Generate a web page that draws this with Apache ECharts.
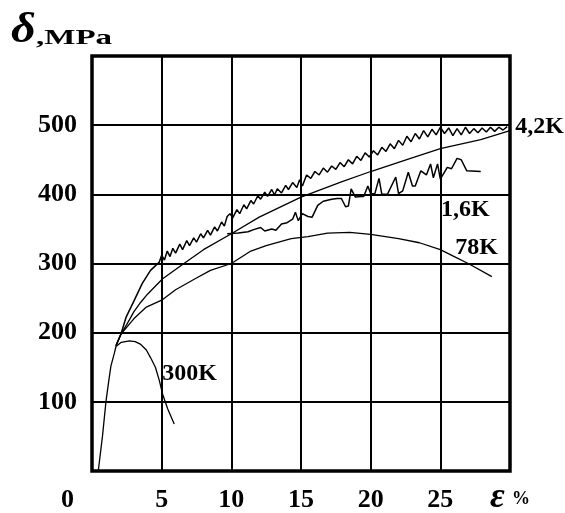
<!DOCTYPE html>
<html>
<head>
<meta charset="utf-8">
<script src="https://cdn.jsdelivr.net/npm/echarts@6/dist/echarts.min.js"></script>
<style>
html,body{margin:0;padding:0;background:#fff;}
#c{width:565px;height:513px;}
</style>
</head>
<body>
<div id="c"></div>
<script>
// ---- data (strain %, stress MPa) ----
const xTickLabels = ['0','5','10','15','20','25'];
const yTickLabels = ['100','200','300','400','500'];
const seriesNames = ['300K','4,2K','smooth','1,6K','78K'];

const curve300K = [[0.45,0],[0.75,50],[1.0,100],[1.2,130],[1.36,152],[1.6,170],[1.72,180],[2.1,186],[2.68,188],[3.1,187],[3.5,183],[3.9,175],[4.2,164],[4.55,150],[4.83,131],[5.07,111],[5.43,90],[5.9,68]];

const curve42K = [[1.72,181],[2.08,198],[2.44,222],[3.04,247],[3.6,271],[4.2,290],[4.83,302],[5.0,312],[5.2,305],[5.4,318],[5.6,310],[5.8,322],[6.0,315],[6.3,328],[6.5,320],[6.8,333],[7.0,326],[7.3,337],[7.5,331],[7.8,343],[8.0,337],[8.3,348],[8.5,341],[8.8,353],[9.0,347],[9.3,360],[9.5,354],[9.7,368],[9.9,372],[10.1,366],[10.4,378],[10.6,372],[10.9,385],[11.1,379],[11.4,391],[11.6,386],[11.9,398],[12.1,393],[12.4,403],[12.6,397],[12.9,407],[13.1,399],[13.3,408],[13.6,402],[13.9,413],[14.1,407],[14.4,417],[14.7,410],[14.9,421],[15.1,412],[15.4,428],[15.7,423],[16.0,433],[16.3,428],[16.6,438],[16.9,432],[17.2,441],[17.5,436],[17.8,446],[18.1,440],[18.4,450],[18.7,444],[19.0,455],[19.3,449],[19.6,460],[19.9,454],[20.2,463],[20.5,457],[20.8,468],[21.1,462],[21.4,473],[21.7,466],[22.0,478],[22.3,471],[22.6,484],[22.9,476],[23.2,488],[23.5,480],[23.8,492],[24.1,483],[24.4,494],[24.7,486],[25.0,497],[25.3,488],[25.6,496],[25.9,485],[26.2,495],[26.5,486],[26.8,497],[27.1,488],[27.4,495],[27.7,489],[28.0,496],[28.3,490],[28.6,497],[28.9,491],[29.2,497],[29.5,493],[29.8,498]];

const curveSmooth = [[1.72,181],[2.08,198],[2.5,212],[3.0,230],[3.5,244],[4.0,256],[5.07,278],[6.6,300],[8.0,320],[10.0,343],[12.0,367],[15.0,396],[17.9,418],[20.0,433],[22.7,451],[25.0,466],[27.9,479],[30.0,492]];

const curve16K = [[9.7,343],[10.5,344],[11.2,346],[11.6,349],[12.1,352],[12.4,347],[12.9,350],[13.2,348],[13.6,357],[14.0,359],[14.4,364],[14.6,374],[14.8,362],[15.1,372],[15.5,368],[15.8,367],[16.2,384],[16.6,390],[17.2,393],[17.6,394],[17.9,394],[18.2,382],[18.4,383],[18.6,408],[18.9,396],[19.3,397],[19.5,397],[19.8,412],[20.0,401],[20.3,401],[20.6,423],[20.8,400],[21.2,400],[21.8,425],[22.0,401],[22.3,405],[22.7,432],[23.0,412],[23.2,412],[23.6,434],[24.0,428],[24.3,444],[24.5,424],[24.8,444],[25.0,422],[25.5,439],[25.8,437],[26.2,452],[26.5,450],[26.9,434],[27.9,433]];

const curve78K = [[1.72,181],[2.08,198],[3.0,220],[3.9,237],[5.0,247],[6.0,262],[7.4,278],[8.5,290],[10.0,300],[11.4,318],[12.5,326],[14.3,336],[15.5,339],[16.9,344],[18.5,345],[20.0,342],[22.0,336],[23.5,330],[25.0,320],[26.0,310],[27.0,300],[28.7,281]];

// label anchor points in data space
const labelAt16K = [26.8, 378];
const labelAt78K = [27.6, 323];
const labelAt300K = [7.0, 141];

const serif = '"Liberation Serif", "Times New Roman", serif';
const labFont = {color:'#000', fontFamily:serif, fontWeight:'bold', fontSize:24};

function lineSeries(name, data, width, extra){
  return Object.assign({
    type:'line', name:name, data:data, showSymbol:false, symbol:'none',
    lineStyle:{color:'#000', width:width}, z:3, animation:false, clip:false
  }, extra||{});
}
function mp(name, coord){
  return {symbol:'circle', symbolSize:0, data:[{name:name, coord:coord}],
    label:Object.assign({show:true, position:'inside', formatter:'{b}'}, labFont)};
}

const chart = echarts.init(document.getElementById('c'), null, {renderer:'canvas'});
chart.setOption({
  animation:false,
  backgroundColor:'#fff',
  grid:{left:92, right:55, top:56, bottom:41, show:true, borderColor:'#000', borderWidth:3.5, backgroundColor:'transparent', z:10},
  xAxis:{type:'value', min:0, max:30, interval:5,
    axisLine:{show:false}, axisTick:{show:false},
    splitLine:{show:true, lineStyle:{color:'#000', width:2}},
    axisLabel:{margin:16, color:'#000', fontFamily:serif, fontWeight:'bold', fontSize:26,
      formatter:function(v){
        const i = Math.round(v/5);
        if(i===0) return '{z|'+xTickLabels[0]+'}';
        return i < xTickLabels.length ? xTickLabels[i] : '';
      },
      rich:{z:{padding:[0,49,0,0], color:'#000', fontFamily:serif, fontWeight:'bold', fontSize:26}}
    }},
  yAxis:{type:'value', min:0, max:600, interval:100,
    axisLine:{show:false}, axisTick:{show:false},
    splitLine:{show:true, lineStyle:{color:'#000', width:2}},
    axisLabel:{margin:15, color:'#000', fontFamily:serif, fontWeight:'bold', fontSize:26,
      formatter:function(v){ const i = Math.round(v/100); return (i>=1 && i<=yTickLabels.length) ? yTickLabels[i-1] : ''; }}
  },
  graphic:[
    {type:'text', left:11, top:10, scaleX:1.15, originX:0, style:{text:'δ', fill:'#000', font:'italic bold 42px '+serif}},
    {type:'text', left:36, top:27, scaleX:1.5, originX:0, style:{text:',MPa', fill:'#000', font:'bold 22px '+serif}},
    {type:'text', left:490, top:480, style:{text:'ε', fill:'#000', font:'italic bold 36px '+serif}},
    {type:'text', left:512, top:490, style:{text:'%', fill:'#000', font:'bold 18px '+serif}}
  ],
  series:[
    lineSeries(seriesNames[0], curve300K, 1.3, {markPoint:mp('300K', labelAt300K)}),
    lineSeries(seriesNames[1], curve42K, 1.5, {endLabel:Object.assign({show:true, distance:8, formatter:'4,2K'}, labFont)}),
    lineSeries(seriesNames[2], curveSmooth, 1.3),
    lineSeries(seriesNames[3], curve16K, 1.5, {markPoint:mp('1,6K', labelAt16K)}),
    lineSeries(seriesNames[4], curve78K, 1.3, {markPoint:mp('78K', labelAt78K)})
  ]
});
</script>
</body>
</html>
